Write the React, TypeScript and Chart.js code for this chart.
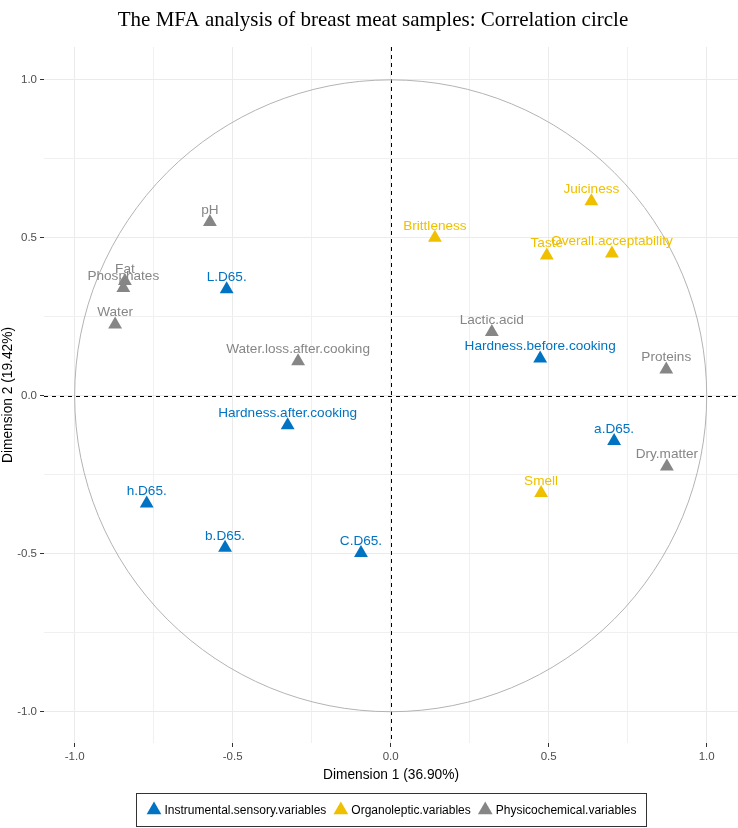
import React, { useEffect, useRef } from 'react';
import { Chart, registerables } from 'chart.js';

Chart.register(...registerables);

// ---- Data ----
const chartTitle = 'The MFA analysis of breast meat samples: Correlation circle';
const xAxisTitle = 'Dimension 1 (36.90%)';
const yAxisTitle = 'Dimension 2 (19.42%)';

const groupNames = ['Instrumental.sensory.variables', 'Organoleptic.variables', 'Physicochemical.variables'];
const groupColors = ['#0073C2', '#EFC000', '#868686'];

const instrumentalNames = ['L.D65.', 'Hardness.before.cooking', 'Hardness.after.cooking', 'a.D65.', 'h.D65.', 'b.D65.', 'C.D65.'];
const instrumentalX = [-0.519, 0.473, -0.326, 0.707, -0.772, -0.524, -0.094];
const instrumentalY = [0.337, 0.118, -0.093, -0.143, -0.341, -0.481, -0.498];

const organolepticNames = ['Juiciness', 'Brittleness', 'Taste', 'Overall.acceptability', 'Smell'];
const organolepticX = [0.635, 0.14, 0.494, 0.7, 0.476];
const organolepticY = [0.616, 0.5, 0.444, 0.45, -0.308];

const physicoNames = ['pH', 'Fat', 'Phosphates', 'Water', 'Water.loss.after.cooking', 'Lactic.acid', 'Proteins', 'Dry.matter'];
const physicoX = [-0.572, -0.841, -0.846, -0.872, -0.293, 0.32, 0.872, 0.874];
const physicoY = [0.55, 0.363, 0.341, 0.226, 0.109, 0.202, 0.083, -0.224];

const gridValues = [-1, -0.75, -0.5, -0.25, 0, 0.25, 0.5, 0.75, 1];
const xRange = [-1.097, 1.099];
const yRange = [-1.099, 1.104];

const SANS = '"Liberation Sans", Arial, sans-serif';
const SERIF = '"Liberation Serif", "Times New Roman", serif';

const isMajor = (v: number) => Math.abs(v * 2 - Math.round(v * 2)) < 1e-6;

function makeAxis(title: string, range: number[], isX: boolean) {
  return {
    type: 'linear',
    min: range[0],
    max: range[1],
    afterBuildTicks: (s: any) => {
      s.ticks = gridValues.map((v) => ({ value: v }));
    },
    afterFit: (s: any) => {
      if (isX) s.height = 40;
      else s.width = 44;
      s.paddingLeft = 0;
      s.paddingRight = 0;
      s.paddingTop = 0;
      s.paddingBottom = 0;
    },
    ticks: {
      autoSkip: false,
      maxRotation: 0,
      padding: 3,
      color: '#4D4D4D',
      font: { family: SANS, size: 11.5 },
      callback: (v: number) => (isMajor(v) ? Number(v).toFixed(1) : ''),
    },
    grid: {
      color: (c: any) => (c.tick && isMajor(c.tick.value) ? '#EBEBEB' : '#F0F0F0'),
      lineWidth: 1,
      tickLength: 4,
      tickColor: (c: any) => (c.tick && isMajor(c.tick.value) ? '#333333' : 'rgba(0,0,0,0)'),
      tickWidth: 1,
    },
    border: { display: false },
    title: {
      display: true,
      text: title,
      color: '#000000',
      font: { family: SANS, size: 13.75 },
      padding: 0,
    },
  };
}

function drawTriangle(ctx: CanvasRenderingContext2D, x: number, y: number, r: number, color: string) {
  ctx.beginPath();
  for (let k = 0; k < 3; k++) {
    const a = (k * 2 * Math.PI) / 3;
    const px = x + Math.sin(a) * r;
    const py = y - Math.cos(a) * r;
    if (k === 0) ctx.moveTo(px, py);
    else ctx.lineTo(px, py);
  }
  ctx.closePath();
  ctx.fillStyle = color;
  ctx.fill();
}

const decorPlugin = {
  id: 'decor',
  beforeDatasetsDraw(chart: any) {
    const { ctx, chartArea } = chart;
    const x = chart.scales.x;
    const y = chart.scales.y;
    const cx = x.getPixelForValue(0);
    const cy = y.getPixelForValue(0);
    const rx = x.getPixelForValue(1) - cx;
    const ry = cy - y.getPixelForValue(1);
    ctx.save();
    ctx.setLineDash([4, 4]);
    ctx.strokeStyle = '#000000';
    ctx.lineWidth = 1;
    ctx.beginPath();
    const hy = Math.round(cy) + 0.5;
    const vx = Math.round(cx) + 0.5;
    ctx.moveTo(chartArea.left, hy);
    ctx.lineTo(chartArea.right, hy);
    ctx.moveTo(vx, chartArea.top);
    ctx.lineTo(vx, chartArea.bottom);
    ctx.stroke();
    ctx.setLineDash([]);
    ctx.beginPath();
    ctx.ellipse(cx, cy, rx, ry, 0, 0, Math.PI * 2);
    ctx.strokeStyle = '#B3B3B3';
    ctx.lineWidth = 1;
    ctx.stroke();
    ctx.restore();
  },
  afterDatasetsDraw(chart: any) {
    const { ctx } = chart;
    ctx.save();
    ctx.font = `13.6px ${SANS}`;
    ctx.textAlign = 'center';
    ctx.textBaseline = 'middle';
    chart.data.datasets.forEach((ds: any, i: number) => {
      const meta = chart.getDatasetMeta(i);
      ctx.fillStyle = ds.backgroundColor;
      meta.data.forEach((pt: any, j: number) => {
        ctx.fillText(ds.names[j], pt.x, pt.y - 12);
      });
    });
    ctx.restore();
  },
  afterDraw(chart: any) {
    const { ctx, chartArea } = chart;
    ctx.save();
    // title
    ctx.font = `21px ${SERIF}`;
    ctx.fillStyle = '#000000';
    ctx.textAlign = 'center';
    ctx.textBaseline = 'middle';
    ctx.fillText(chartTitle, 373, 20);

    // legend
    ctx.font = `12px ${SANS}`;
    const triW = 15;
    const gapT = 3;
    const gapItem = 7;
    const widths = groupNames.map((n) => triW + gapT + ctx.measureText(n).width);
    const total = widths.reduce((a, b) => a + b, 0) + gapItem * (groupNames.length - 1);
    const padX = 10;
    const boxW = total + padX * 2;
    const centerX = (chartArea.left + chartArea.right) / 2;
    const boxLeft = Math.round(centerX - boxW / 2) + 0.5;
    const boxTop = 793.5;
    const boxH = 33;
    ctx.strokeStyle = '#333333';
    ctx.lineWidth = 1;
    ctx.strokeRect(boxLeft, boxTop, Math.round(boxW), boxH);
    let cur = boxLeft + padX;
    const midY = boxTop + boxH / 2;
    groupNames.forEach((n, i) => {
      drawTriangle(ctx, cur + triW / 2, midY, 8.5, groupColors[i]);
      ctx.fillStyle = '#000000';
      ctx.textAlign = 'left';
      ctx.textBaseline = 'middle';
      ctx.fillText(n, cur + triW + gapT, midY + 0.5);
      cur += widths[i] + gapItem;
    });
    ctx.restore();
  },
};

function makeDataset(names: string[], xs: number[], ys: number[], color: string, label: string) {
  return {
    label,
    names,
    data: names.map((_, i) => ({ x: xs[i], y: ys[i] })),
    backgroundColor: color,
    borderWidth: 0,
    pointStyle: 'triangle',
    pointRadius: 8,
    pointHoverRadius: 8,
  };
}

export default function App() {
  const ref = useRef<HTMLCanvasElement | null>(null);

  useEffect(() => {
    document.body.style.margin = '0';
    if (!ref.current) return;
    const chart = new Chart(ref.current, {
      type: 'scatter',
      data: {
        datasets: [
          makeDataset(instrumentalNames, instrumentalX, instrumentalY, groupColors[0], groupNames[0]),
          makeDataset(organolepticNames, organolepticX, organolepticY, groupColors[1], groupNames[1]),
          makeDataset(physicoNames, physicoX, physicoY, groupColors[2], groupNames[2]),
        ] as any,
      },
      options: {
        animation: false,
        responsive: false,
        devicePixelRatio: 1,
        layout: { autoPadding: false, padding: { top: 47, left: 0, right: 0, bottom: 45 } },
        plugins: {
          legend: { display: false },
          tooltip: { enabled: false },
          title: { display: false },
        },
        scales: {
          x: makeAxis(xAxisTitle, xRange, true) as any,
          y: makeAxis(yAxisTitle, yRange, false) as any,
        },
      },
      plugins: [decorPlugin],
    });
    return () => chart.destroy();
  }, []);

  return <canvas ref={ref} width={738} height={828} style={{ display: 'block' }} />;
}
